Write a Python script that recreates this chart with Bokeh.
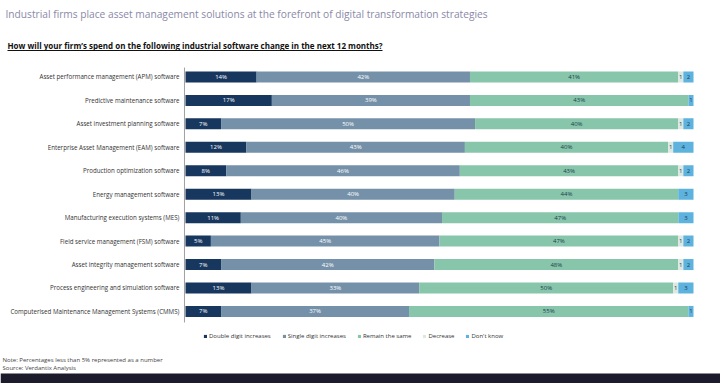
from bokeh.plotting import figure
from bokeh.models import ColumnDataSource, FactorRange, Range1d, Label, Legend, LegendItem, BoxAnnotation
from bokeh.transform import dodge
from bokeh.core.properties import value
from bokeh.embed import file_html
from bokeh.resources import INLINE

categories = [
    "Asset performance management (APM) software",
    "Predictive maintenance software",
    "Asset investment planning software",
    "Enterprise Asset Management (EAM) software",
    "Production optimization software",
    "Energy management software",
    "Manufacturing execution systems (MES)",
    "Field service management (FSM) software",
    "Asset integrity management software",
    "Process engineering and simulation software",
    "Computerised Maintenance Management Systems (CMMS)",
]
series_names = ["Double digit increases", "Single digit increases", "Remain the same", "Decrease", "Don't know"]
double_digit = [14, 17, 7, 12, 8, 13, 11, 5, 7, 13, 7]
single_digit = [42, 39, 50, 43, 46, 40, 40, 45, 42, 33, 37]
remain_same = [41, 43, 40, 40, 43, 44, 47, 47, 48, 50, 55]
decrease = [1, 0, 1, 1, 1, 0, 0, 1, 1, 1, 0]
dont_know = [2, 1, 2, 4, 2, 3, 3, 2, 2, 3, 1]

FONT = "Open Sans"
colors = ["#17375e", "#7591a9", "#88c6ab", "#dce9e3", "#5db3de"]
text_colors = ["#ffffff", "#ffffff", "#1d3c50", "#1d3c50", "#1d3c50"]
keys = ["dd", "sd", "rs", "de", "dk"]
series = [double_digit, single_digit, remain_same, decrease, dont_know]

W, H = 720, 383
PX = 5.08      # pixels per percentage point
SHIFT = -0.094  # small vertical nudge of the rows

# 100% stacked: normalise each row to its total
totals = [sum(vals[i] for vals in series) for i in range(len(categories))]
data = dict(cat=categories)
for k, vals in zip(keys, series):
    data[k] = [v * 100.0 / t for v, t in zip(vals, totals)]
src = ColumnDataSource(data)

p = figure(width=W, height=H, output_backend="svg", toolbar_location=None,
           x_axis_location=None, y_axis_location=None,
           y_range=FactorRange(factors=list(reversed(categories)), range_padding=2.667,
                               range_padding_units="absolute"),
           x_range=Range1d(-185 / PX, 100 + 27 / PX),
           min_border=0, min_border_left=0, min_border_right=0, min_border_top=0, min_border_bottom=0)
p.outline_line_color = None
p.xgrid.visible = False
p.ygrid.visible = False

rends = p.hbar_stack(keys, y=dodge("cat", SHIFT, range=p.y_range), height=0.47,
                     color=colors, line_color=None, source=src)

# category labels (left of the axis line)
csrc = ColumnDataSource(dict(x=[-1.2] * len(categories), cat=categories))
p.text(x="x", y=dodge("cat", SHIFT, range=p.y_range), text="cat", source=csrc, text_align="right",
       text_baseline="middle", text_font=value(FONT), text_font_size="6.2px", text_color="#333333")
# axis line
p.segment(x0=[-0.2], y0=[(categories[-1], -0.47 + SHIFT)], x1=[-0.2], y1=[(categories[0], 0.4 + SHIFT)],
          line_color="#a0a0a0", line_width=1)

# segment labels
lx, ly, lt, lc = [], [], [], []
for i, c in enumerate(categories):
    start = 0
    for s, vals in enumerate(series):
        v = vals[i]
        w = v * 100.0 / totals[i]
        if v > 0:
            lx.append(start + w / 2)
            ly.append(c)
            lt.append(f"{v}%" if v >= 5 else f"{v}")
            lc.append(text_colors[s])
        start += w
lsrc = ColumnDataSource(dict(x=lx, y=ly, t=lt, c=lc))
p.text(x="x", y=dodge("y", SHIFT, range=p.y_range), text="t", text_color="c", source=lsrc,
       text_align="center", text_baseline="middle", text_font=value(FONT), text_font_size="6px")

legend = Legend(items=[LegendItem(label=n, renderers=[r]) for n, r in zip(series_names, rends)],
                orientation="horizontal", location=(203, 43), glyph_width=4, glyph_height=4,
                label_text_font=FONT, label_text_font_size="6px", label_text_color="#333333",
                label_standoff=2, spacing=11, padding=0, margin=0, border_line_color=None,
                background_fill_alpha=0, label_height=6)
p.add_layout(legend, "center")

p.add_layout(Label(x=5, y=370, x_units="screen", y_units="screen",
                   text="Industrial firms place asset management solutions at the forefront of digital transformation strategies",
                   text_font=FONT, text_font_size="10.2px", text_color="#8a88a8", text_baseline="middle"))
p.add_layout(Label(x=7, y=338, x_units="screen", y_units="screen",
                   text="How will your firm\u2019s spend on the following industrial software change in the next 12 months?",
                   text_font=FONT, text_font_size="8px", text_font_style="bold", text_color="#111111",
                   text_baseline="middle"))
p.add_layout(BoxAnnotation(left=7, right=382, bottom=332.5, top=333.5, left_units="screen", right_units="screen",
                           bottom_units="screen", top_units="screen", fill_color="#111111", fill_alpha=1,
                           line_color=None))
p.add_layout(Label(x=2, y=24, x_units="screen", y_units="screen",
                   text="Note: Percentages less than 5% represented as a number",
                   text_font=FONT, text_font_size="6px", text_color="#444444", text_baseline="middle"))
p.add_layout(Label(x=2, y=16, x_units="screen", y_units="screen",
                   text="Source: Verdantix Analysis",
                   text_font=FONT, text_font_size="6px", text_color="#444444", text_baseline="middle"))
p.add_layout(BoxAnnotation(left=0, right=W, bottom=-5, top=10, left_units="screen", right_units="screen",
                           bottom_units="screen", top_units="screen", fill_color="#1c1b2c", fill_alpha=1,
                           line_color=None))

open("out.html", "w").write(file_html(p, INLINE))
